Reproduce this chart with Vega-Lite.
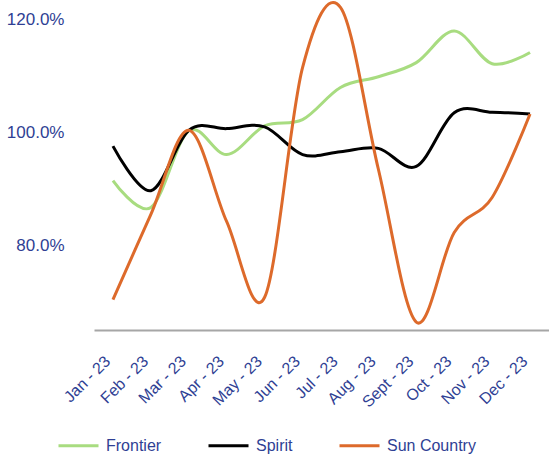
{
  "$schema": "https://vega.github.io/schema/vega-lite/v6.json",
  "width": 455,
  "height": 330,
  "autosize": {"type": "none"},
  "padding": {"left": 94, "top": 0, "right": 0, "bottom": 131},
  "background": "white",
  "config": {
    "view": {"stroke": null},
    "font": "Liberation Sans"
  },
  "data": {
    "values": [
      {"month": "Jan - 23", "airline": "Frontier", "value": 0.915},
      {"month": "Feb - 23", "airline": "Frontier", "value": 0.867},
      {"month": "Mar - 23", "airline": "Frontier", "value": 1.003},
      {"month": "Apr - 23", "airline": "Frontier", "value": 0.961},
      {"month": "May - 23", "airline": "Frontier", "value": 1.012},
      {"month": "Jun - 23", "airline": "Frontier", "value": 1.023},
      {"month": "Jul - 23", "airline": "Frontier", "value": 1.08},
      {"month": "Aug - 23", "airline": "Frontier", "value": 1.099},
      {"month": "Sept - 23", "airline": "Frontier", "value": 1.124},
      {"month": "Oct - 23", "airline": "Frontier", "value": 1.18},
      {"month": "Nov - 23", "airline": "Frontier", "value": 1.122},
      {"month": "Dec - 23", "airline": "Frontier", "value": 1.142},
      {"month": "Jan - 23", "airline": "Spirit", "value": 0.976},
      {"month": "Feb - 23", "airline": "Spirit", "value": 0.897},
      {"month": "Mar - 23", "airline": "Spirit", "value": 1.004},
      {"month": "Apr - 23", "airline": "Spirit", "value": 1.007},
      {"month": "May - 23", "airline": "Spirit", "value": 1.01},
      {"month": "Jun - 23", "airline": "Spirit", "value": 0.961},
      {"month": "Jul - 23", "airline": "Spirit", "value": 0.966},
      {"month": "Aug - 23", "airline": "Spirit", "value": 0.972},
      {"month": "Sept - 23", "airline": "Spirit", "value": 0.94},
      {"month": "Oct - 23", "airline": "Spirit", "value": 1.035},
      {"month": "Nov - 23", "airline": "Spirit", "value": 1.036},
      {"month": "Dec - 23", "airline": "Spirit", "value": 1.033},
      {"month": "Jan - 23", "airline": "Sun Country", "value": 0.704},
      {"month": "Feb - 23", "airline": "Sun Country", "value": 0.855},
      {"month": "Mar - 23", "airline": "Sun Country", "value": 1.004},
      {"month": "Apr - 23", "airline": "Sun Country", "value": 0.842},
      {"month": "May - 23", "airline": "Sun Country", "value": 0.708},
      {"month": "Jun - 23", "airline": "Sun Country", "value": 1.115},
      {"month": "Jul - 23", "airline": "Sun Country", "value": 1.222},
      {"month": "Aug - 23", "airline": "Sun Country", "value": 0.935},
      {"month": "Sept - 23", "airline": "Sun Country", "value": 0.664},
      {"month": "Oct - 23", "airline": "Sun Country", "value": 0.823},
      {"month": "Nov - 23", "airline": "Sun Country", "value": 0.885},
      {"month": "Dec - 23", "airline": "Sun Country", "value": 1.033}
    ]
  },
  "mark": {"type": "line", "interpolate": "cardinal", "strokeWidth": 3},
  "encoding": {
    "x": {
      "field": "month",
      "type": "ordinal",
      "sort": null,
      "scale": {"type": "point", "padding": 0.5},
      "axis": {
        "title": null,
        "labelAngle": -45,
        "labelAlign": "right",
        "labelBaseline": "bottom",
        "labelFontSize": 16,
        "labelColor": "#2F3F94",
        "ticks": false,
        "labelPadding": 34,
        "domainColor": "#A6A6A6",
        "domainWidth": 2
      }
    },
    "y": {
      "field": "value",
      "type": "quantitative",
      "scale": {"domain": [0.65, 1.235], "nice": false, "zero": false},
      "axis": {
        "title": null,
        "values": [0.8, 1.0, 1.2],
        "format": ".1%",
        "grid": false,
        "domain": false,
        "ticks": false,
        "labelFontSize": 17,
        "labelColor": "#2F3F94",
        "labelPadding": 30
      }
    },
    "color": {
      "field": "airline",
      "type": "nominal",
      "scale": {
        "domain": ["Frontier", "Spirit", "Sun Country"],
        "range": ["#A8DC80", "#000000", "#DD6A2B"]
      },
      "legend": {
        "title": null,
        "orient": "none",
        "direction": "horizontal",
        "legendX": -37,
        "legendY": 424,
        "symbolType": "stroke",
        "symbolSize": 1600,
        "symbolStrokeWidth": 3,
        "labelFontSize": 16,
        "labelColor": "#2F3F94",
        "columnPadding": 40,
        "labelOffset": 6
      }
    }
  }
}
